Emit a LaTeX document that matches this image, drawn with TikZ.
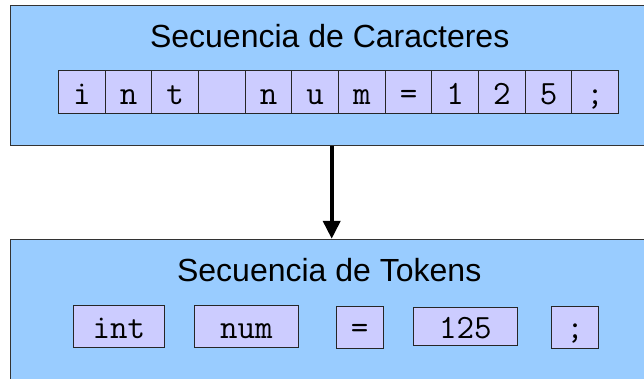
\documentclass[tikz,border=0pt]{standalone}
\usepackage{fontspec}
\setmainfont{Liberation Sans}
\usepackage{tikz}
\usetikzlibrary{arrows.meta}
\definecolor{panelblue}{HTML}{99CCFF}
\definecolor{cellviolet}{HTML}{CCCCFF}
\definecolor{edgegray}{HTML}{333333}

\tikzset{
	panel/.style={draw=edgegray, fill=panelblue, line width=1pt, inner sep=0pt},
	title/.style={anchor=base, font=\fontsize{32}{38}\selectfont},
	cell/.style={draw=black!85, fill=cellviolet, line width=0.8pt, inner sep=0pt,
		minimum width=46.67pt, minimum height=42.6pt, text height=24.6pt, text depth=0pt,
		font=\ttfamily\fontsize{34}{40}\selectfont},
	token/.style={cell, minimum height=42pt, text height=23pt},
	flow/.style={line width=4pt, -{Triangle[length=18pt,width=17pt]}}
}

\begin{document}
\begin{tikzpicture}[x=1pt,y=-1pt]
\useasboundingbox (0,0) rectangle (644,378);

% character sequence
\node[panel, minimum width=640pt, minimum height=140.7pt] (chars) at (330,75.35) {};
\node[title] (charstitle) at (329.7,47.3) {Secuencia de Caracteres};
\foreach \c [count=\i] in {i,n,t,{},n,u,m,=,1,2,5,;}
{
	\node[cell] (c\i) at ({35.17+46.67*\i},92) {\c};
}

% token sequence
\node[panel, minimum width=640pt, minimum height=146pt] (tokens) at (330,312.3) {};
\node[title] (tokenstitle) at (329.2,281.7) {Secuencia de Tokens};
\node[token, minimum width=91pt] (tint) at (118.8,326.8) {int};
\node[token, minimum width=104pt] (tnum) at (246.3,326.8) {num};
\node[token, minimum width=47.3pt] (teq) at (359.7,327) {=};
\node[token, minimum width=104pt, minimum height=38pt] (tval) at (465.3,326.7) {125};
\node[token, minimum width=47pt] (tsemi) at (575.2,327) {;};

\coordinate (ax) at (331.7,0);
\draw[flow] (chars.south -| ax) -- (tokens.north -| ax);
\end{tikzpicture}
\end{document}
